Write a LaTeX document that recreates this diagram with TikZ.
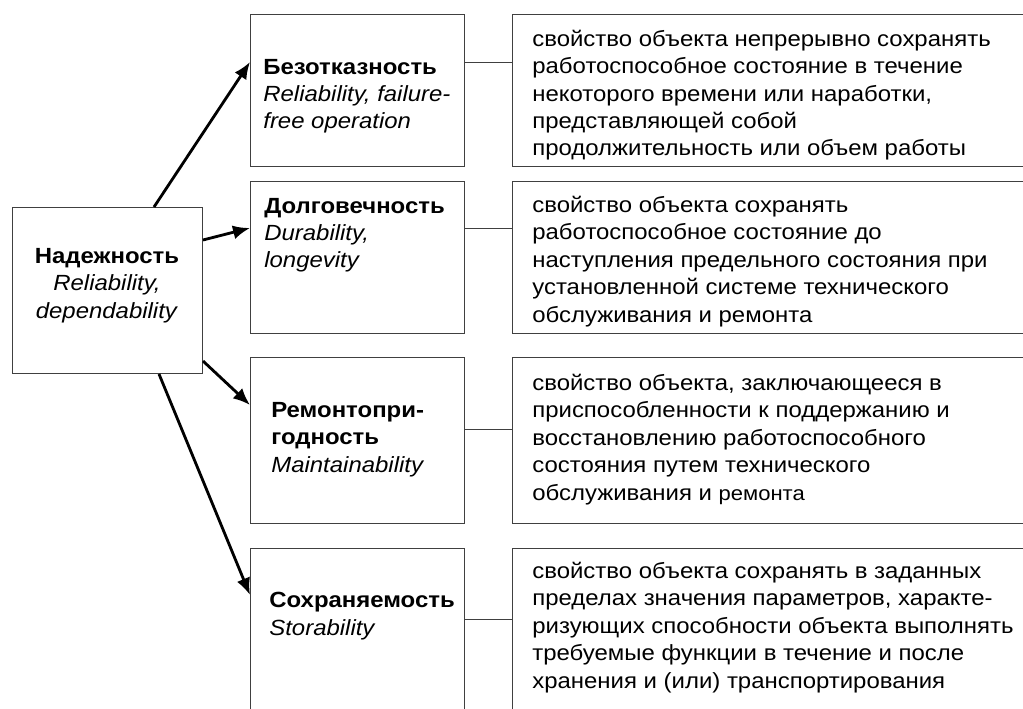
\documentclass[tikz,border=0pt]{standalone}
\usepackage{fontspec}
\setmainfont{Liberation Sans}[FakeStretch=1.09]
\usetikzlibrary{arrows.meta,calc}

\begin{document}
\begin{tikzpicture}[x=0.02cm,y=-0.02cm,font=\fontsize{12.5}{15.6}\selectfont,
  box/.style={draw=black!75,line width=0.6pt,inner sep=0pt,anchor=north west,minimum width=4.28cm},
  defbox/.style={box,minimum width=11.2cm},
  txt/.style={anchor=base west,align=left,inner sep=0pt},
  link/.style={draw=black!75,line width=0.5pt},
  arr/.style={-{Latex[length=0.34cm,width=0.28cm]},line width=1.6pt}]
\path[use as bounding box,fill=white] (0,0) rectangle (1023,709);

%main property (base = last line)
\node[box,minimum width=3.8cm,minimum height=3.32cm] (hub) at (12,207) {};
\node[anchor=base,align=center,inner sep=0pt] (hubtxt) at (107,318) {\textbf{Надежность}\\\textit{Reliability,}\\\textit{dependability}};

%components
\node[box,minimum height=3.04cm] (prop1) at (250,14) {};
\node[txt] (name1) at (263,129) {\textbf{Безотказность}\\\textit{Reliability, failure-}\\\textit{free operation}};
\node[box,minimum height=3.04cm] (prop2) at (250,181) {};
\node[txt] (name2) at (264,268) {\textbf{Долговечность}\\\textit{Durability,}\\\textit{longevity}};
\node[box,minimum height=3.32cm] (prop3) at (250,357) {};
\node[txt] (name3) at (271,472) {\textbf{Ремонтопри-}\\\textbf{годность}\\\textit{Maintainability}};
\node[box,minimum height=3.24cm] (prop4) at (250,548) {};
\node[txt] (name4) at (269,635) {\textbf{Сохраняемость}\\\textit{Storability}};

%definitions
\node[defbox,minimum height=3.04cm] (def1) at (512,14) {};
\node[txt] (deftxt1) at (532,156) {свойство объекта непрерывно сохранять\\работоспособное состояние в течение\\некоторого времени или наработки,\\представляющей собой\\продолжительность или объем работы};
\node[defbox,minimum height=3.04cm] (def2) at (512,181) {};
\node[txt] (deftxt2) at (532,322) {свойство объекта сохранять\\работоспособное состояние до\\наступления предельного состояния при\\установленной системе технического\\обслуживания и ремонта};
\node[defbox,minimum height=3.32cm] (def3) at (512,357) {};
\node[txt] (deftxt3) at (532,500) {свойство объекта, заключающееся в\\приспособленности к поддержанию и\\восстановлению работоспособного\\состояния путем технического\\обслуживания и {\fontsize{11.5}{15.6}\selectfont ремонта}};
\node[defbox,minimum height=3.24cm] (def4) at (512,548) {};
\node[txt] (deftxt4) at (532,688) {свойство объекта сохранять в заданных\\пределах значения параметров, характе-\\ризующих способности объекта выполнять\\требуемые функции в течение и после\\хранения и (или) транспортирования};

\draw[link] ($(prop1.north east)+(0,48)$) -- ($(def1.north west)+(0,48)$);
\draw[link] ($(prop2.north east)+(0,47)$) -- ($(def2.north west)+(0,47)$);
\draw[link] ($(prop3.north east)+(0,72)$) -- ($(def3.north west)+(0,72)$);
\draw[link] ($(prop4.north east)+(0,71)$) -- ($(def4.north west)+(0,71)$);

\draw[arr] ($(hub.north west)+(142,0)$) -- ($(prop1.north west)+(0,48)$);
\draw[arr] ($(hub.north east)+(0,33)$) -- ($(prop2.north west)+(0,47)$);
\draw[arr] ($(hub.south east)+(0,-13)$) -- ($(prop3.north west)+(0,48)$);
\draw[arr] ($(hub.south west)+(147,0)$) -- ($(prop4.north west)+(0,47)$);
\end{tikzpicture}
\end{document}
